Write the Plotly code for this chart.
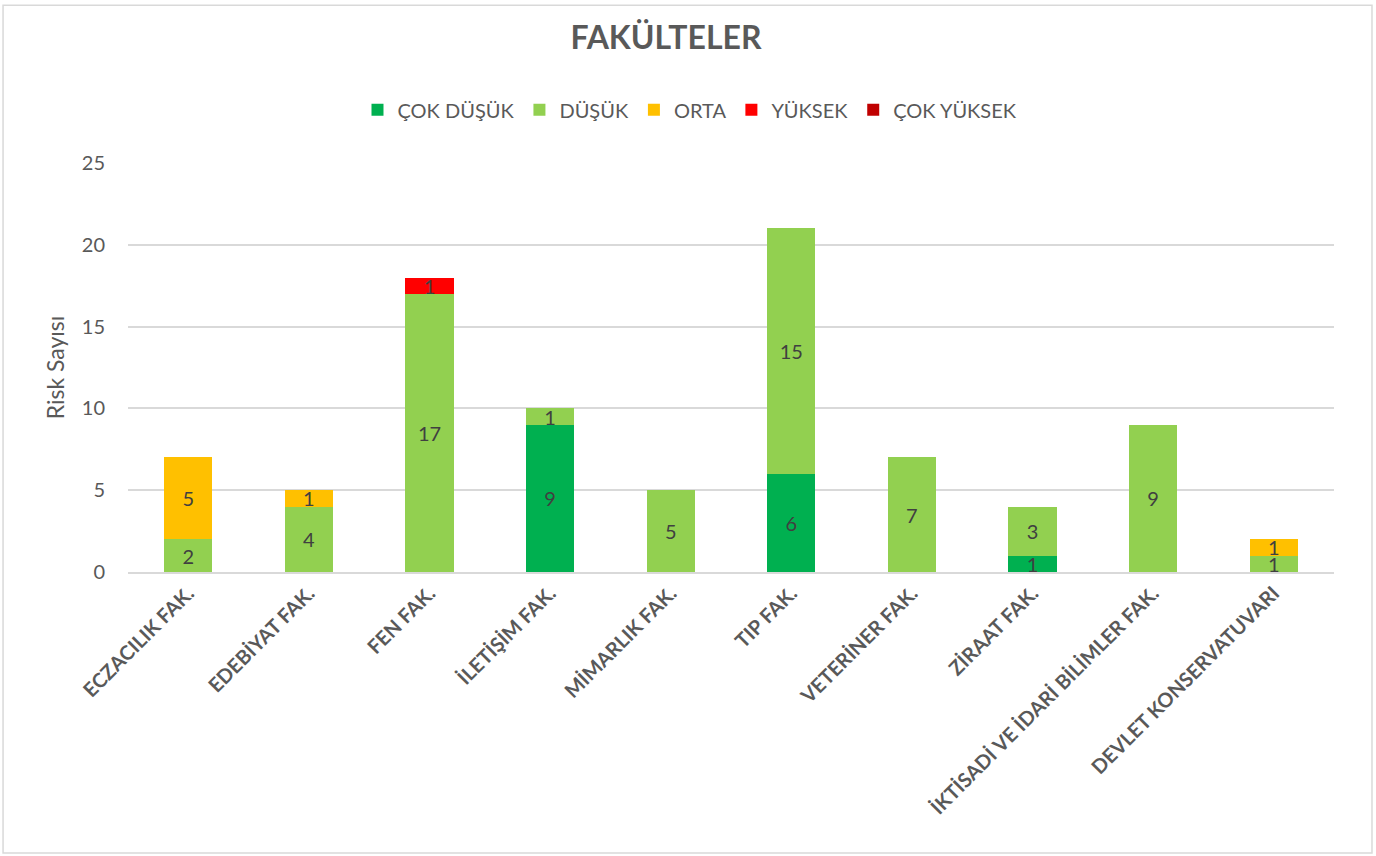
import plotly.graph_objects as go

faculties = ["ECZACILIK FAK.", "EDEBİYAT FAK.", "FEN FAK.", "İLETİŞİM FAK.", "MİMARLIK FAK.",
             "TIP FAK.", "VETERİNER FAK.", "ZİRAAT FAK.", "İKTİSADİ VE İDARİ BİLİMLER FAK.",
             "DEVLET KONSERVATUVARI"]

cok_dusuk = [None, None, None, 9, None, 6, None, 1, None, None]
dusuk = [2, 4, 17, 1, 5, 15, 7, 3, 9, 1]
orta = [5, 1, None, None, None, None, None, None, None, 1]
yuksek = [None, None, 1, None, None, None, None, None, None, None]
cok_yuksek = [None] * 10

series = [
    ("ÇOK DÜŞÜK", cok_dusuk, "#00B050"),
    ("DÜŞÜK", dusuk, "#92D050"),
    ("ORTA", orta, "#FFC000"),
    ("YÜKSEK", yuksek, "#FF0000"),
    ("ÇOK YÜKSEK", cok_yuksek, "#C00000"),
]

font_family = "Lato, Calibri, sans-serif"

fig = go.Figure()
for name, values, color in series:
    fig.add_trace(go.Bar(
        x=faculties,
        y=values,
        name=name,
        marker=dict(color=color, line=dict(width=0)),
        text=[str(v) if v else "" for v in values],
        textposition="inside",
        insidetextanchor="middle",
        textangle=0,
        textfont=dict(size=20, color="#404040", family=font_family),
        constraintext="none",
    ))

fig.update_layout(
    barmode="stack",
    bargap=0.6,
    width=1376,
    height=856,
    paper_bgcolor="white",
    plot_bgcolor="white",
    margin=dict(l=128, r=42, t=163, b=284),
    font=dict(family=font_family, color="#595959"),
    title=dict(text="<b>FAKÜLTELER</b>", x=0.484, xanchor="center", y=0.956, yanchor="middle",
               font=dict(size=32, color="#595959", family=font_family)),
    legend=dict(orientation="h", x=0.466, xanchor="center", y=1.13, yanchor="middle",
                font=dict(size=20, color="#595959"), traceorder="normal"),
    uniformtext=dict(minsize=19, mode="show"),
    shapes=[dict(type="rect", xref="paper", yref="paper", x0=-0.1036, x1=1.0315, y0=-0.687, y1=1.386,
                 line=dict(color="#D9D9D9", width=1.5), fillcolor="rgba(0,0,0,0)", layer="below")],
)

fig.update_yaxes(
    range=[0, 25], dtick=5, showgrid=True, gridcolor="#D9D9D9", gridwidth=1.5,
    zeroline=False, showline=False, ticks="", ticklabelstandoff=22,
    tickfont=dict(size=20, color="#595959"),
    title=dict(text="Risk Sayısı", font=dict(size=23, color="#595959"), standoff=10),
)
fig.update_xaxes(
    tickangle=-45, showline=True, linecolor="#D9D9D9", linewidth=1.5, ticks="",
    tickfont=dict(size=20, color="#595959"),
    tickvals=faculties, ticktext=[f"<b>{f}</b>" for f in faculties],
)

fig.write_html("out.html", config={"displayModeBar": False},
               post_script="document.body.style.margin='0';")
